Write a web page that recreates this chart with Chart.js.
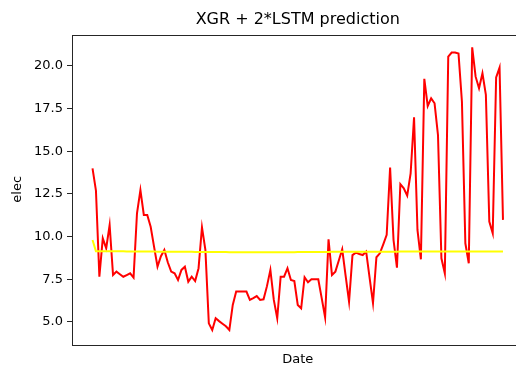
<!DOCTYPE html>
<html>
<head>
<meta charset="utf-8">
<script src="https://cdn.jsdelivr.net/npm/chart.js@4/dist/chart.umd.min.js"></script>
<style>
  html, body { margin: 0; padding: 0; background: #fff; overflow: hidden; }
  #predChart { display: block; }
</style>
</head>
<body>
<canvas id="predChart" width="530" height="371"></canvas>
<script>
'use strict';

// observed electricity, one value per day
const elec = [
    14.0, 12.7, 7.65, 9.9, 9.32, 10.68, 7.75, 7.95, 7.8, 7.65,
    7.75, 7.85, 7.6, 11.37, 12.73, 11.27, 11.27, 10.58, 9.4, 8.24,
    8.85, 9.22, 8.5, 7.95, 7.85, 7.46, 8.05, 8.24, 7.36, 7.65,
    7.4, 8.15, 10.55, 9.22, 4.92, 4.53, 5.22, 5.05, 4.9, 4.75,
    4.53, 6.0, 6.78, 6.78, 6.78, 6.78, 6.29, 6.4, 6.52, 6.29,
    6.33, 7.1, 8.05, 6.29, 5.22, 7.65, 7.65, 8.15, 7.46, 7.4,
    6.0, 5.8, 7.62, 7.33, 7.5, 7.5, 7.5, 6.4, 5.27, 9.84,
    7.75, 7.95, 8.6, 9.26, 7.7, 6.19, 8.92, 9.06, 8.98, 8.92,
    9.12, 7.6, 6.1, 8.79, 9.02, 9.55, 10.1, 14.04, 9.8, 8.18,
    13.07, 12.83, 12.4, 13.71, 16.99, 10.39, 8.67, 19.24, 17.65, 18.1,
    17.81, 15.95, 8.73, 7.85, 20.54, 20.78, 20.78, 20.72, 17.9, 9.61,
    8.44, 21.09, 19.37, 18.69, 19.57, 18.3, 10.88, 10.2, 19.33, 19.9,
    10.98
];

// XGR + 2*LSTM output
const predicted = [
    9.8, 9.14, 9.14, 9.14, 9.14, 9.14, 9.14, 9.14, 9.14, 9.14,
    9.13, 9.13, 9.13, 9.13, 9.13, 9.13, 9.13, 9.13, 9.13, 9.12,
    9.12, 9.12, 9.12, 9.12, 9.12, 9.11, 9.11, 9.11, 9.11, 9.11,
    9.1, 9.1, 9.1, 9.1, 9.1, 9.1, 9.1, 9.1, 9.1, 9.1,
    9.09, 9.09, 9.09, 9.09, 9.09, 9.09, 9.09, 9.09, 9.09, 9.09,
    9.09, 9.09, 9.09, 9.09, 9.09, 9.09, 9.09, 9.09, 9.09, 9.09,
    9.1, 9.1, 9.1, 9.1, 9.1, 9.1, 9.1, 9.1, 9.1, 9.1,
    9.11, 9.11, 9.11, 9.11, 9.11, 9.11, 9.11, 9.11, 9.11, 9.11,
    9.12, 9.12, 9.12, 9.12, 9.12, 9.12, 9.12, 9.12, 9.12, 9.12,
    9.13, 9.13, 9.13, 9.13, 9.13, 9.13, 9.13, 9.13, 9.13, 9.13,
    9.13, 9.13, 9.13, 9.13, 9.13, 9.13, 9.13, 9.13, 9.13, 9.13,
    9.13, 9.13, 9.13, 9.13, 9.13, 9.13, 9.13, 9.13, 9.13, 9.13,
    9.13
];

const days = elec.map((_, i) => i);
const yTicks = [5.0, 7.5, 10.0, 12.5, 15.0, 17.5, 20.0];

const FONT = "'DejaVu Sans', sans-serif";
const AXIS_COLOR = '#262626';

// box around the plot like a matplotlib axes frame
const frame = {
    id: 'frame',
    afterDatasetsDraw(chart) {
        const {ctx, chartArea: a} = chart;
        ctx.save();
        ctx.strokeStyle = AXIS_COLOR;
        ctx.lineWidth = 1;
        ctx.strokeRect(Math.round(a.left) + 0.5, Math.round(a.top) + 0.5,
            Math.round(a.right - a.left), Math.round(a.bottom - a.top));
        ctx.restore();
    }
};

const bg = {
    id: 'bg',
    beforeDraw(chart) {
        const ctx = chart.ctx;
        ctx.save();
        ctx.fillStyle = '#fff';
        ctx.fillRect(0, 0, chart.width, chart.height);
        ctx.restore();
    }
};

const toPoints = arr => arr.map((v, i) => ({x: days[i], y: v}));
const span = days[days.length - 1] - days[0];

new Chart('predChart', {
    type: 'line',
    data: {
        datasets: [{
            label: 'prediction',
            data: toPoints(predicted),
            borderColor: '#ffff00',
            borderWidth: 2,
            pointRadius: 0,
            tension: 0,
            order: 0
        }, {
            label: 'elec',
            data: toPoints(elec),
            borderColor: '#ff0000',
            borderWidth: 2,
            pointRadius: 0,
            tension: 0,
            order: 1
        }]
    },
    options: {
        responsive: false,
        animation: false,
        events: [],
        layout: {padding: {left: 0, right: 6.5, top: 0, bottom: 0}},
        plugins: {
            legend: {display: false},
            tooltip: {enabled: false},
            title: {
                display: true,
                text: 'XGR + 2*LSTM prediction',
                fullSize: false,
                color: '#000',
                font: {family: FONT, size: 16, weight: 'normal'},
                padding: {top: 10, bottom: 5.3}
            }
        },
        scales: {
            x: {
                type: 'linear',
                min: days[0] - span * 0.05,
                max: days[days.length - 1] + span * 0.05,
                grid: {display: false},
                border: {display: false},
                ticks: {display: false},
                title: {
                    display: true,
                    text: 'Date',
                    color: '#000',
                    font: {family: FONT, size: 13},
                    padding: {top: 0, bottom: 3.2}
                },
                afterFit(scale) { scale.height = 27; }
            },
            y: {
                min: 3.71,
                max: 21.84,
                grid: {
                    drawOnChartArea: false,
                    drawTicks: true,
                    tickLength: 5,
                    color: AXIS_COLOR,
                    lineWidth: 1
                },
                border: {display: false},
                ticks: {
                    color: '#000',
                    font: {family: FONT, size: 13},
                    padding: 4,
                    callback: v => Number(v).toFixed(1)
                },
                afterBuildTicks(scale) {
                    scale.ticks = yTicks.map(v => ({value: v}));
                },
                title: {
                    display: true,
                    text: 'elec',
                    color: '#000',
                    font: {family: FONT, size: 13},
                    padding: {top: 10.2, bottom: 0}
                },
                afterFit(scale) { scale.width = 72; }
            }
        }
    },
    plugins: [bg, frame]
});
</script>
</body>
</html>
